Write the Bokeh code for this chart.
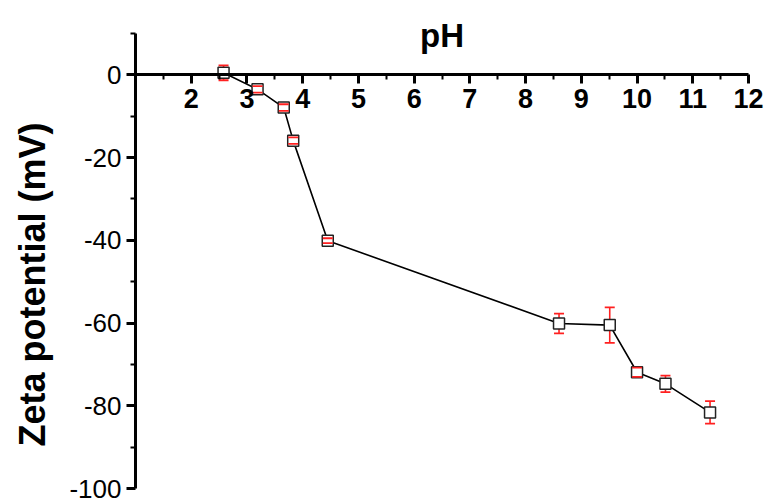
from bokeh.plotting import figure
from bokeh.models import Range1d, FixedTicker, Label, ColumnDataSource
from bokeh.embed import file_html
from bokeh.resources import INLINE

# ---- data ----
ph = [2.58, 3.19, 3.66, 3.83, 4.45, 8.60, 9.51, 10.00, 10.51, 11.31]
zeta = [0.5, -3.5, -7.9, -15.9, -40.1, -60.1, -60.5, -71.9, -74.7, -81.6]
zeta_err = [1.8, 0.8, 0.8, 0.8, 0.6, 2.4, 4.3, 1.1, 2.0, 2.7]

x_ticks = [2, 3, 4, 5, 6, 7, 8, 9, 10, 11, 12]
x_minor_ticks = [1.5, 2.5, 3.5, 4.5, 5.5, 6.5, 7.5, 8.5, 9.5, 10.5, 11.5]
y_ticks = [-100, -80, -60, -40, -20, 0]
y_minor_ticks = [-90, -70, -50, -30, -10, 10]

x_title = "pH"
y_title = "Zeta potential (mV)"

X_MIN, X_MAX = 1, 12
Y_MIN, Y_MAX = -100, 10

FONT = "Liberation Sans"

src = ColumnDataSource(dict(
    x=ph, y=zeta,
    lo=[z - e for z, e in zip(zeta, zeta_err)],
    hi=[z + e for z, e in zip(zeta, zeta_err)],
))

# pixel geometry: x axis 613 px for 1..12, y axis 455 px for -100..10;
# the frame is made a little larger so the "pH" title is not clipped,
# and the axes are bounded to the real ranges.
px_x = 613 / (X_MAX - X_MIN)
px_y = 455 / (Y_MAX - Y_MIN)
x_end = X_MIN + 634 / px_x
y_end = Y_MAX + 23 / px_y

p = figure(width=769, height=502, output_backend="svg", toolbar_location=None,
           x_range=Range1d(X_MIN, x_end), y_range=Range1d(Y_MIN, y_end))
p.min_border_left = 135
p.min_border_top = 10
p.min_border_right = 0
p.min_border_bottom = 14
p.outline_line_color = None
p.xgrid.visible = False
p.ygrid.visible = False
p.background_fill_color = "white"
p.border_fill_color = "white"

# x axis crossing at y = 0
xa = p.xaxis[0]
xa.fixed_location = 0
xa.bounds = (X_MIN, X_MAX)
xa.ticker = FixedTicker(ticks=x_ticks, minor_ticks=x_minor_ticks)
xa.axis_line_width = 3
xa.major_tick_line_width = 3
xa.minor_tick_line_width = 2
xa.major_tick_in = 0
xa.major_tick_out = 9
xa.minor_tick_in = 0
xa.minor_tick_out = 5
xa.major_label_text_font = FONT
xa.major_label_text_font_size = "27px"
xa.major_label_text_font_style = "bold"
xa.major_label_text_color = "black"
xa.major_label_standoff = 5

ya = p.yaxis[0]
ya.bounds = (Y_MIN, Y_MAX)
ya.ticker = FixedTicker(ticks=y_ticks, minor_ticks=y_minor_ticks)
ya.major_label_overrides = {t: str(t) for t in y_ticks}
ya.axis_line_width = 3
ya.major_tick_line_width = 3
ya.minor_tick_line_width = 2
ya.major_tick_in = 0
ya.major_tick_out = 9
ya.minor_tick_in = 0
ya.minor_tick_out = 5
ya.major_label_text_font = FONT
ya.major_label_text_font_size = "26px"
ya.major_label_text_color = "black"
ya.major_label_standoff = 5
ya.axis_label = y_title + "\u00a0" * 7
ya.axis_label_text_font = FONT
ya.axis_label_text_font_size = "36px"
ya.axis_label_text_font_style = "bold"
ya.axis_label_text_color = "black"
ya.axis_label_standoff = 13

# data line, error stems, markers, caps
p.line("x", "y", source=src, line_color="black", line_width=1.6)
p.segment(x0="x", y0="lo", x1="x", y1="hi", source=src, line_color="#ff2020", line_width=1.6)
p.scatter("x", "y", source=src, marker="square", size=11, fill_color="white",
          line_color="#222222", line_width=1.5)
p.scatter("x", "hi", source=src, marker="dash", size=10, line_color="#ff2020", line_width=1.8)
p.scatter("x", "lo", source=src, marker="dash", size=10, line_color="#ff2020", line_width=1.8)

p.add_layout(Label(x=6.5, y=9.6, text=x_title, text_font=FONT, text_font_size="33px",
                   text_font_style="bold", text_align="center", text_baseline="alphabetic",
                   text_color="black"))

open("out.html", "w").write(file_html(p, INLINE))
